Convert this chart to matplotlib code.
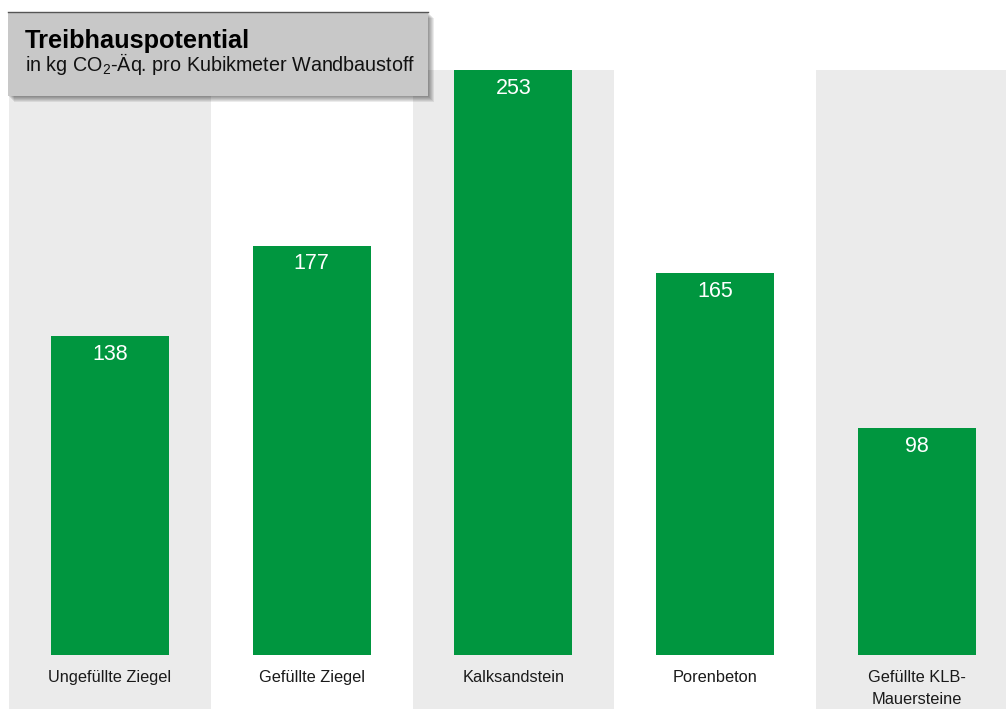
import matplotlib
matplotlib.use('Agg')
import matplotlib.pyplot as plt
from matplotlib.patches import Rectangle
from matplotlib import font_manager

# data
categories = ['Ungefüllte Ziegel', 'Gefüllte Ziegel', 'Kalksandstein',
              'Porenbeton', 'Gefüllte KLB-\nMauersteine']
values = [138, 177, 253, 165, 98]

GREEN = '#00963f'
BAND = '#ebebeb'
BOX = '#c8c8c8'

names = {f.name for f in font_manager.fontManager.ttflist}
narrow = 'Liberation Sans Narrow' if 'Liberation Sans Narrow' in names else 'Liberation Sans'
plt.rcParams['font.family'] = [narrow, 'DejaVu Sans']
plt.rcParams['mathtext.fontset'] = 'custom'
plt.rcParams['mathtext.rm'] = 'Liberation Sans'
plt.rcParams['mathtext.it'] = 'Liberation Sans'

W, H = 1006, 709
fig = plt.figure(figsize=(W / 100, H / 100), dpi=100)

# axes spans from first band edge to right edge, top of tallest bar to bottom
ax = fig.add_axes([9 / W, 0, 1 - 9 / W, (H - 70) / H])
ax.set_xlim(-0.5, (1006 - 110) / 201.75)
ax.set_ylim(-23.4, 253)
ax.axis('off')

for i in range(len(categories)):
    if i % 2 == 0:
        ax.axvspan(i - 0.5, i + 0.5, color=BAND, zorder=0, lw=0)

ax.bar(range(len(values)), values, width=0.585, color=GREEN, zorder=2)
for i, v in enumerate(values):
    ax.annotate(str(v), (i, v), xytext=(0, -5.5), textcoords='offset points',
                ha='center', va='top', color='white', fontsize=15.5, zorder=3)
    ax.annotate(categories[i], (i, 0), xytext=(0, -11), textcoords='offset points',
                ha='center', va='top', color='#1a1a1a', fontsize=11.8,
                linespacing=1.6, annotation_clip=False)

# title box with soft shadow
x0, y0, x1, y1 = 8, 12, 428, 96
for k in range(6, 0, -1):
    fig.add_artist(Rectangle(((x0 + k) / W, (H - y1 - k) / H), (x1 - x0) / W, (y1 - y0) / H,
                             transform=fig.transFigure, color='black', alpha=0.08, lw=0))
fig.add_artist(Rectangle((x0 / W, (H - y1) / H), (x1 - x0) / W, (y1 - y0) / H,
                         transform=fig.transFigure, facecolor=BOX, edgecolor='none'))
fig.add_artist(plt.Line2D([x0 / W, x1 / W], [(H - y0) / H] * 2, transform=fig.transFigure,
                          color='#555555', lw=1))
fig.text(25 / W, (H - 41) / H, 'Treibhauspotential', fontsize=18.3, fontweight='bold',
         family=['Liberation Sans'], va='center', ha='left', color='black')
fig.text(25 / W, (H - 64) / H, 'in kg CO$_2$-Äq. pro Kubikmeter Wandbaustoff', fontsize=14.2,
         family=['Liberation Sans'], va='center', ha='left', color='#111111')

fig.savefig('out.png', dpi=100)
